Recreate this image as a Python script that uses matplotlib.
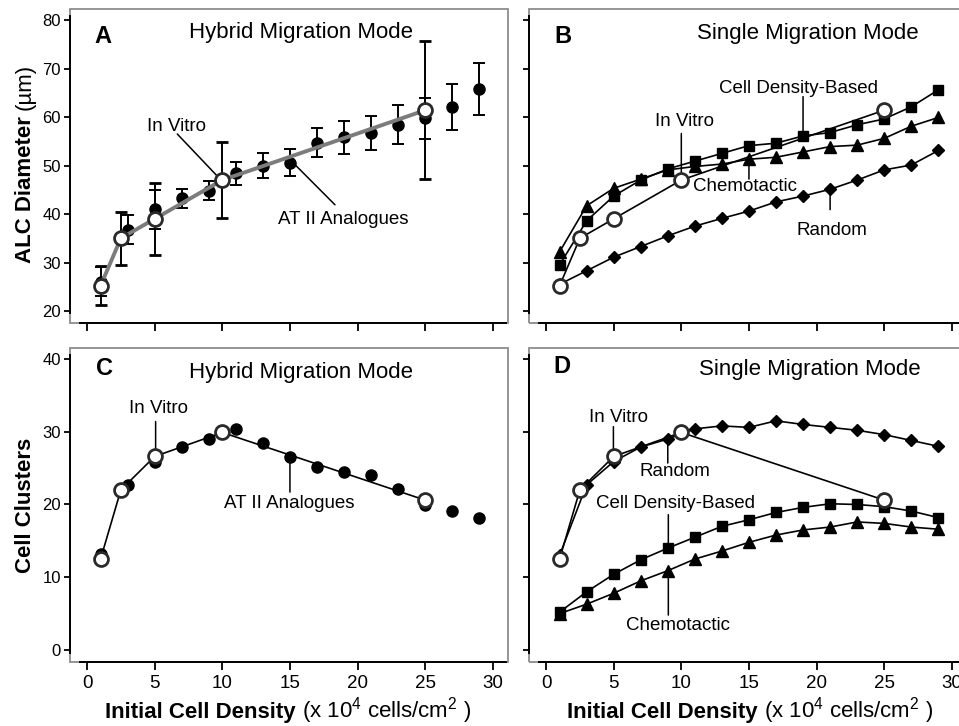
import matplotlib
matplotlib.use('Agg')
import matplotlib.pyplot as plt
from matplotlib.patches import Rectangle

plt.rcParams['font.family'] = ['Liberation Sans', 'DejaVu Sans']
plt.rcParams['mathtext.default'] = 'regular'

# ---------------- data ----------------
x_invitro = [1, 2.5, 5, 10, 25]
x_sim = [1, 3, 5, 7, 9, 11, 13, 15, 17, 19, 21, 23, 25, 27, 29]
x_ticks = [0, 5, 10, 15, 20, 25, 30]

alc_invitro = [25.2, 35.0, 39.0, 47.0, 61.4]
alc_invitro_err = [4.0, 5.5, 7.4, 7.9, 14.2]
alc_at2 = [26.0, 36.8, 41.0, 43.2, 44.8, 48.4, 50.0, 50.6, 54.7, 55.8, 56.8, 58.4, 59.7, 62.1, 65.8]
alc_at2_err = [3.0, 3.0, 4.0, 2.0, 2.0, 2.4, 2.6, 2.8, 3.0, 3.4, 3.5, 4.0, 4.2, 4.7, 5.3]
alc_random = [25.5, 28.3, 31.1, 33.3, 35.5, 37.5, 39.1, 40.6, 42.5, 43.7, 45.1, 47.0, 49.1, 50.1, 53.1]
alc_density = [29.5, 38.6, 43.7, 47.0, 49.3, 50.9, 52.5, 54.1, 54.6, 56.1, 56.8, 58.4, 59.6, 62.1, 65.6]
alc_chemo = [32.2, 41.7, 45.3, 47.2, 49.1, 49.8, 50.3, 51.3, 51.7, 52.8, 53.9, 54.2, 55.6, 58.1, 59.9]

clu_invitro = [12.5, 22.0, 26.6, 29.9, 20.6]
clu_at2 = [13.2, 22.7, 25.9, 27.9, 29.0, 30.4, 28.4, 26.5, 25.2, 24.5, 24.1, 22.1, 19.9, 19.1, 18.2]
clu_random = [13.0, 22.7, 25.9, 27.9, 29.0, 30.4, 30.8, 30.6, 31.5, 31.0, 30.6, 30.2, 29.6, 28.8, 28.0]
clu_density = [5.2, 8.0, 10.4, 12.4, 14.0, 15.5, 17.0, 17.9, 18.9, 19.6, 20.1, 20.0, 19.7, 19.1, 18.2]
clu_chemo = [5.0, 6.3, 7.8, 9.5, 10.9, 12.5, 13.6, 14.8, 15.8, 16.5, 16.9, 17.6, 17.4, 16.9, 16.6]

alc_yticks = [20, 30, 40, 50, 60, 70, 80]
clu_yticks = [0, 10, 20, 30, 40]

# ---------------- layout ----------------
W, H = 959, 726
fig = plt.figure(figsize=(W / 100, H / 100), dpi=100)

def box(l, t, w=438, h=314):
    return [l / W, 1 - (t + h) / H, w / W, h / H]

axA = fig.add_axes(box(70, 9))
axB = fig.add_axes(box(529, 9))
axC = fig.add_axes(box(70, 348))
axD = fig.add_axes(box(529, 348))

TXT = 13.5
EDGE = '#2a2a2a'


def style(ax, ylim, yticks, ybounds, xlabels, ylabels):
    ax.set_xlim(-1.26, 31.12)
    ax.set_ylim(*ylim)
    ax.set_xticks(x_ticks)
    ax.set_yticks(yticks)
    for s in ['top', 'right']:
        ax.spines[s].set_visible(False)
    for s in ['left', 'bottom']:
        ax.spines[s].set_linewidth(1.4)
        ax.spines[s].set_color('black')
    ax.spines['left'].set_bounds(*ybounds)
    ax.spines['bottom'].set_bounds(-0.5, 31.0)
    ax.add_patch(Rectangle((0, 0), 1, 1, transform=ax.transAxes, fill=False,
                           ec='#8c8c8c', lw=1.3, zorder=0.5, clip_on=False))
    ax.tick_params(axis='y', direction='out', length=4.5, width=1.3, pad=2,
                   labelsize=12, labelleft=ylabels)
    ax.tick_params(axis='x', direction='out', length=6, width=1.3, pad=3.5,
                   labelsize=13.5, labelbottom=xlabels)


def leader(ax, p0, p1):
    ax.annotate('', xy=p1, xytext=p0,
                arrowprops=dict(arrowstyle='-', lw=1.1, color='black',
                                shrinkA=0, shrinkB=0))


def heading(ax, letter, title, lx, ly, tx, ty):
    ax.text(lx, ly, letter, transform=ax.transAxes, fontsize=17,
            fontweight='bold', ha='center', va='center')
    ax.text(tx, ty, title, transform=ax.transAxes, fontsize=16,
            ha='center', va='center')

# ---------------- panel A ----------------
axA.errorbar(x_sim, alc_at2, yerr=alc_at2_err, fmt='o', color='black', ms=8,
             ecolor='black', elinewidth=1.4, capsize=4.5, capthick=1.4, zorder=3)
axA.errorbar(x_invitro, alc_invitro, yerr=alc_invitro_err, fmt='-o', color='#7c7c7c',
             lw=2.8, ms=10, mfc='white', mec=EDGE, mew=2.0, ecolor='black',
             elinewidth=1.4, capsize=4.5, capthick=1.4, zorder=4)
style(axA, (17.53, 82.27), alc_yticks, (19.6, 80.8), False, True)
heading(axA, 'A', 'Hybrid Migration Mode', 0.076, 0.914, 0.527, 0.924)
axA.text(6.65, 58.0, 'In Vitro', fontsize=TXT, ha='center', va='center')
leader(axA, (6.67, 56.5), (9.6, 47.9))
axA.text(18.95, 38.9, 'AT II Analogues', fontsize=TXT, ha='center', va='center')
leader(axA, (18.33, 41.9), (15.4, 50.1))

# ---------------- panel B ----------------
kw = dict(color='black', lw=1.2, zorder=3)
axB.plot(x_sim, alc_random, marker='D', ms=6.5, **kw)
axB.plot(x_sim, alc_density, marker='s', ms=7, **kw)
axB.plot(x_sim, alc_chemo, marker='^', ms=8, **kw)
axB.plot(x_invitro, alc_invitro, marker='o', ms=10, mfc='white', mec=EDGE, mew=2.0,
         color='black', lw=1.2, zorder=4)
style(axB, (17.53, 82.27), alc_yticks, (19.6, 80.8), False, False)
heading(axB, 'B', 'Single Migration Mode', 0.078, 0.912, 0.636, 0.923)
axB.text(18.65, 65.9, 'Cell Density-Based', fontsize=TXT, ha='center', va='center')
leader(axB, (19.0, 64.2), (19.0, 56.1))
axB.text(10.27, 59.0, 'In Vitro', fontsize=TXT, ha='center', va='center')
leader(axB, (10.0, 56.6), (10.0, 48.0))
axB.text(14.7, 45.6, 'Chemotactic', fontsize=TXT, ha='center', va='center')
leader(axB, (15.0, 50.5), (15.0, 47.2))
axB.text(21.16, 36.7, 'Random', fontsize=TXT, ha='center', va='center')
leader(axB, (21.0, 44.6), (21.0, 40.9))

# ---------------- panel C ----------------
axC.plot(x_sim, clu_at2, 'o', color='black', ms=8, zorder=3)
axC.plot(x_invitro, clu_invitro, marker='o', ms=10, mfc='white', mec=EDGE, mew=2.0,
         color='black', lw=1.2, zorder=4)
style(axC, (-1.65, 41.51), clu_yticks, (-0.4, 40.6), True, True)
heading(axC, 'C', 'Hybrid Migration Mode', 0.078, 0.935, 0.527, 0.923)
axC.text(5.27, 33.2, 'In Vitro', fontsize=TXT, ha='center', va='center')
leader(axC, (5.07, 31.4), (5.07, 27.3))
axC.text(14.95, 20.1, 'AT II Analogues', fontsize=TXT, ha='center', va='center')
leader(axC, (15.0, 21.7), (15.0, 25.7))

# ---------------- panel D ----------------
axD.plot(x_sim, clu_random, marker='D', ms=6.5, **kw)
axD.plot(x_sim, clu_density, marker='s', ms=7, **kw)
axD.plot(x_sim, clu_chemo, marker='^', ms=8, **kw)
axD.plot(x_invitro, clu_invitro, marker='o', ms=10, mfc='white', mec=EDGE, mew=2.0,
         color='black', lw=1.2, zorder=4)
style(axD, (-1.65, 41.51), clu_yticks, (-0.4, 40.6), True, False)
heading(axD, 'D', 'Single Migration Mode', 0.076, 0.94, 0.64, 0.93)
axD.text(5.34, 31.9, 'In Vitro', fontsize=TXT, ha='center', va='center')
leader(axD, (4.98, 30.7), (4.98, 27.0))
axD.text(9.53, 24.5, 'Random', fontsize=TXT, ha='center', va='center')
leader(axD, (9.0, 25.7), (9.0, 29.3))
axD.text(9.58, 20.2, 'Cell Density-Based', fontsize=TXT, ha='center', va='center')
leader(axD, (9.04, 18.6), (9.04, 14.0))
axD.text(9.78, 3.4, 'Chemotactic', fontsize=TXT, ha='center', va='center')
leader(axD, (9.04, 4.8), (9.04, 11.2))

# ---------------- axis labels (bold + regular parts) ----------------
renderer = fig.canvas.get_renderer()


def xlabel(xc_px, base_px, size=16):
    t1 = fig.text(0, 0, 'Initial Cell Density', fontsize=size, fontweight='bold',
                  ha='left', va='baseline')
    t2 = fig.text(0, 0, '(x 10$^4$ cells/cm$^2$ )', fontsize=size,
                  ha='left', va='baseline')
    sp = size * 0.28 * 100 / 72
    w1 = t1.get_window_extent(renderer).width
    w2 = t2.get_window_extent(renderer).width
    x0 = xc_px - (w1 + sp + w2) / 2
    y = (H - base_px) / H
    t1.set_position((x0 / W, y))
    t2.set_position(((x0 + w1 + sp) / W, y))


def ylabel(base_px, yc_px, bold, reg, size=16):
    t1 = fig.text(0, 0, bold, fontsize=size, fontweight='bold', rotation=90,
                  rotation_mode='anchor', ha='left', va='baseline')
    t2 = fig.text(0, 0, reg, fontsize=size, rotation=90,
                  rotation_mode='anchor', ha='left', va='baseline')
    sp = size * 0.28 * 100 / 72
    h1 = t1.get_window_extent(renderer).height
    h2 = t2.get_window_extent(renderer).height if reg else 0
    total = h1 + (sp + h2 if reg else 0)
    y0 = (H - yc_px) - total / 2
    t1.set_position((base_px / W, y0 / H))
    t2.set_position((base_px / W, (y0 + h1 + sp) / H))


xlabel(288, 718)
xlabel(750, 718)
ylabel(31, 163, 'ALC Diameter', '(µm)')
ylabel(31, 505, 'Cell Clusters', '')

fig.savefig('out.png', dpi=100)
